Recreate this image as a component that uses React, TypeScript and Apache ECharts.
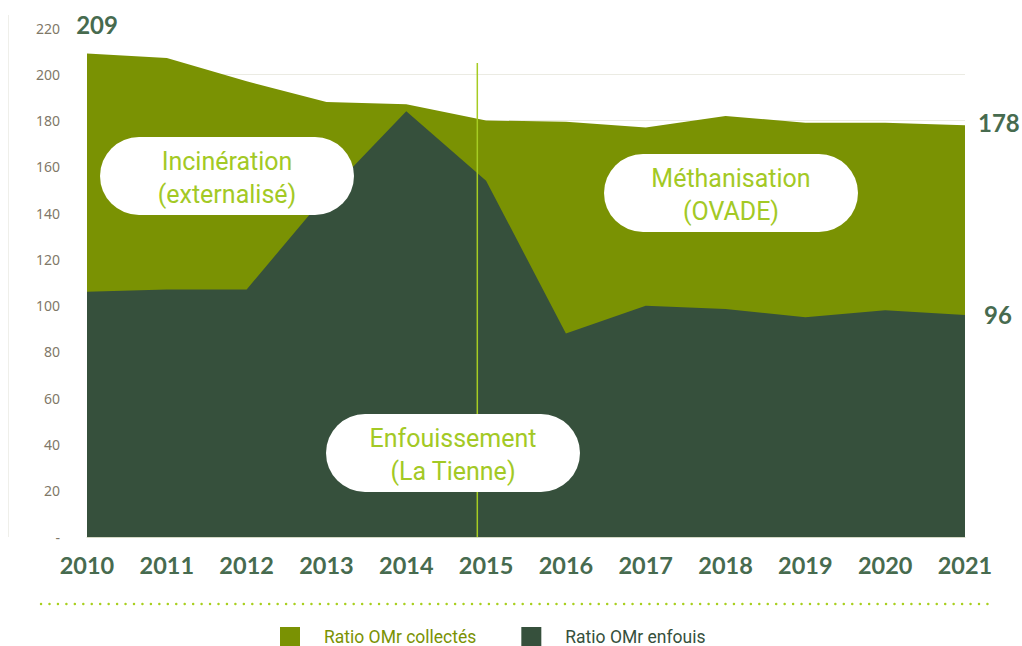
import React, { useEffect, useRef } from "react";
import * as echarts from "echarts";

const years = ["2010", "2011", "2012", "2013", "2014", "2015", "2016", "2017", "2018", "2019", "2020", "2021"];
const collected = [209, 207, 197, 188, 187, 180, 179.5, 177, 182, 179, 179, 178];
const landfilled = [106, 107, 107, 148, 184, 154, 88, 100, 98.5, 95, 98, 96];
const seriesNames = ["Ratio OMr collectés", "Ratio OMr enfouis"];
const annotations = [
  { text: "Incinération\n(externalisé)", x: 100, y: 137 },
  { text: "Méthanisation\n(OVADE)", x: 604, y: 154 },
  { text: "Enfouissement\n(La Tienne)", x: 326, y: 414 },
];
const dividerIndex = 4.89;

const GREEN = "#7a9203";
const DARK = "#36503c";
const LABEL_DARK = "#476b4f";
const LIGHT = "#a3c925";
const FONT = "Roboto, 'Noto Sans', sans-serif";

export default function App() {
  const ref = useRef<HTMLDivElement>(null);
  useEffect(() => {
    if (!ref.current) return;
    const chart = echarts.init(ref.current, undefined, { renderer: "svg" });
    const gridLeft = 87;
    const gridRight = 57;
    const gridTop = 28;
    const gridBottom = 109;
    const plotW = 1022 - gridLeft - gridRight;
    const divX = gridLeft + (dividerIndex * plotW) / (years.length - 1);
    const last = collected.length - 1;

    const bigLabel = {
      fontSize: 24,
      fontWeight: "bold" as const,
      color: LABEL_DARK,
      fontFamily: "Lato, " + FONT,
      formatter: "{c}",
    };

    const collectedData = collected.map((v, i) => {
      if (i === 0) return { value: v, label: { show: true, position: "top", offset: [10, -12], ...bigLabel } };
      if (i === last) return { value: v, label: { show: true, position: "right", distance: 13, offset: [0, -3], ...bigLabel } };
      return v;
    });
    const landData = landfilled.map((v, i) => {
      if (i === last) return { value: v, label: { show: true, position: "right", distance: 19, ...bigLabel } };
      return v;
    });

    const graphics: any[] = [
      {
        type: "line",
        shape: { x1: 8.5, y1: 15, x2: 8.5, y2: 537 },
        style: { stroke: "#efefea", lineWidth: 1 },
        z: 1,
      },
      {
        type: "line",
        shape: { x1: divX, y1: 63, x2: divX, y2: 537 },
        style: { stroke: "#a6cc22", lineWidth: 1.5 },
        z: 50,
      },
      {
        type: "line",
        shape: { x1: 41, y1: 604, x2: 995, y2: 604 },
        style: { stroke: "#a8cf1e", lineWidth: 2.4, lineDash: [0.1, 8.35], lineCap: "round" },
      },
    ];
    annotations.forEach((a) => {
      graphics.push({
        type: "rect",
        z: 100,
        shape: { x: a.x, y: a.y, width: 254, height: 78, r: 39 },
        style: { fill: "#ffffff" },
      });
      graphics.push({
        type: "text",
        z: 101,
        x: a.x + 127,
        y: a.y + 41,
        style: {
          text: a.text,
          fill: LIGHT,
          fontSize: 25,
          lineHeight: 33,
          fontFamily: FONT,
          align: "center",
          verticalAlign: "middle",
        },
      });
    });

    chart.setOption({
      animation: false,
      backgroundColor: "#ffffff",
      grid: { left: gridLeft, right: gridRight, top: gridTop, bottom: gridBottom, containLabel: false },
      legend: {
        left: 280,
        top: 627,
        padding: 0,
        itemWidth: 20,
        itemHeight: 20,
        itemGap: 45,
        icon: "rect",
        data: [
          { name: seriesNames[0], textStyle: { color: GREEN } },
          { name: seriesNames[1], textStyle: { color: DARK } },
        ],
        textStyle: { fontSize: 17.5, fontFamily: FONT, padding: [0, 0, 0, 19] },
      },
      xAxis: {
        type: "category",
        data: years,
        boundaryGap: false,
        axisLine: { show: true, lineStyle: { color: "#d5d9c6", width: 1 } },
        axisTick: { show: false },
        axisLabel: {
          color: LABEL_DARK,
          fontSize: 23.5,
          fontWeight: "bold",
          fontFamily: "Lato, " + FONT,
          margin: 16,
        },
        splitLine: { show: false },
      },
      yAxis: {
        type: "value",
        min: 0,
        max: 220,
        interval: 20,
        axisLine: { show: false },
        axisTick: { show: false },
        axisLabel: {
          color: "#7f7868",
          fontSize: 14,
          fontFamily: "'Noto Sans', " + FONT,
          margin: 27,
          formatter: (v: number) => (v === 0 ? "-" : String(v)),
        },
        splitLine: { show: true, showMaxLine: false, lineStyle: { color: "#ebebe3", width: 1 } },
      },
      series: [
        {
          name: seriesNames[0],
          type: "line",
          data: collectedData,
          symbol: "circle",
          symbolSize: 0,
          showSymbol: true,
          lineStyle: { width: 0 },
          itemStyle: { color: GREEN },
          areaStyle: { color: GREEN, opacity: 1 },
          z: 2,
        },
        {
          name: seriesNames[1],
          type: "line",
          data: landData,
          symbol: "circle",
          symbolSize: 0,
          showSymbol: true,
          lineStyle: { width: 0 },
          itemStyle: { color: DARK },
          areaStyle: { color: DARK, opacity: 1 },
          z: 3,
        },
      ],
      graphic: graphics,
    });
    return () => chart.dispose();
  }, []);
  return <div ref={ref} style={{ width: 1022, height: 646, position: "absolute", left: 0, top: 0 }} />;
}
